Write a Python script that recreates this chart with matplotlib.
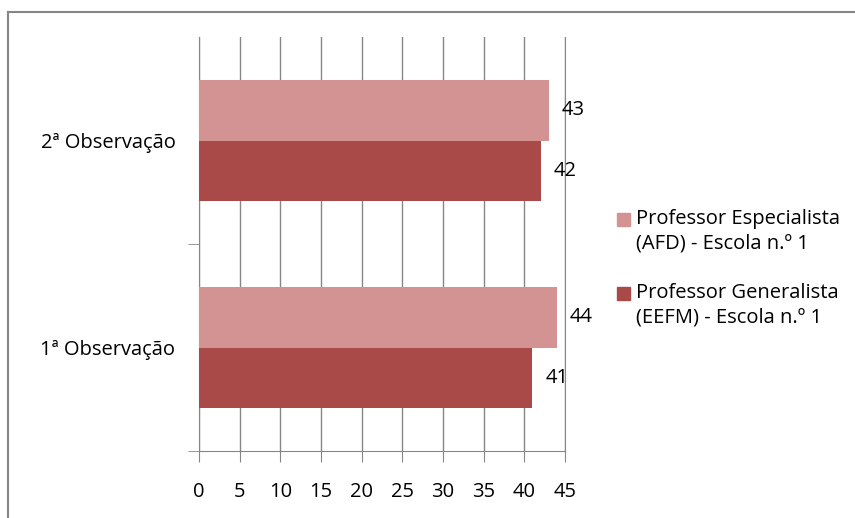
import matplotlib.pyplot as plt
from matplotlib.lines import Line2D
from matplotlib.patches import Rectangle
import numpy as np

plt.rcParams['font.family'] = ['Open Sans', 'DejaVu Sans']

categorias = ["1ª Observação", "2ª Observação"]
series = ["Professor Especialista\n(AFD) - Escola n.º 1",
          "Professor Generalista\n(EEFM) - Escola n.º 1"]
especialista = [44, 43]
generalista = [41, 42]
cores = ["#D39392", "#A94A48"]
ticks_x = [0, 5, 10, 15, 20, 25, 30, 35, 40, 45]

W, H = 855, 518
fig = plt.figure(figsize=(W / 100, H / 100), dpi=100)
ax = fig.add_axes([199 / W, 1 - 451 / H, 366 / W, 414 / H])

y = np.arange(len(categorias))
h = 0.29
b1 = ax.barh(y + h / 2, especialista, h, color=cores[0], zorder=3)
b2 = ax.barh(y - h / 2, generalista, h, color=cores[1], zorder=3)

# value labels to the right of each bar
for bars in (b1, b2):
    for r in bars:
        ax.text(r.get_width() + 1.6, r.get_y() + r.get_height() / 2,
                "%d" % r.get_width(), va="center", ha="left", fontsize=14.5)

ax.set_xlim(0, 45)
ax.set_ylim(-0.5, 1.5)
ax.set_xticks(ticks_x)
ax.set_yticks(y)
ax.set_yticklabels(categorias, fontsize=14.5)
ax.tick_params(axis="y", length=0, pad=17)
ax.set_yticks([-0.5, 0.5], minor=True)
ax.tick_params(axis="y", which="minor", length=8, color="#868686", direction="out")
ax.tick_params(axis="x", length=8, color="#868686", labelsize=14.5, pad=14)

ax.grid(axis="x", color="#868686", linewidth=1, zorder=0)
ax.spines["top"].set_visible(False)
for s in ["left", "right", "bottom"]:
    ax.spines[s].set_color("#868686")

# legend, square aligned with first text line
leg_y = [213, 287]
for cor, nome, ly in zip(cores, series, leg_y):
    fig.patches.append(Rectangle((617 / W, 1 - (ly + 13) / H), 13 / W, 13 / H,
                                 color=cor, transform=fig.transFigure))
    fig.text(636 / W, 1 - (ly - 4) / H, nome, fontsize=14.5, va="top",
             ha="left", linespacing=1.3)

# outer chart border (top and left visible)
fig.add_artist(Line2D([8 / W, 8 / W], [0, 1 - 12 / H], color="#868686", lw=1.5))
fig.add_artist(Line2D([8 / W, 1], [1 - 12 / H, 1 - 12 / H], color="#868686", lw=1.5))

fig.savefig("out.png", dpi=100)
